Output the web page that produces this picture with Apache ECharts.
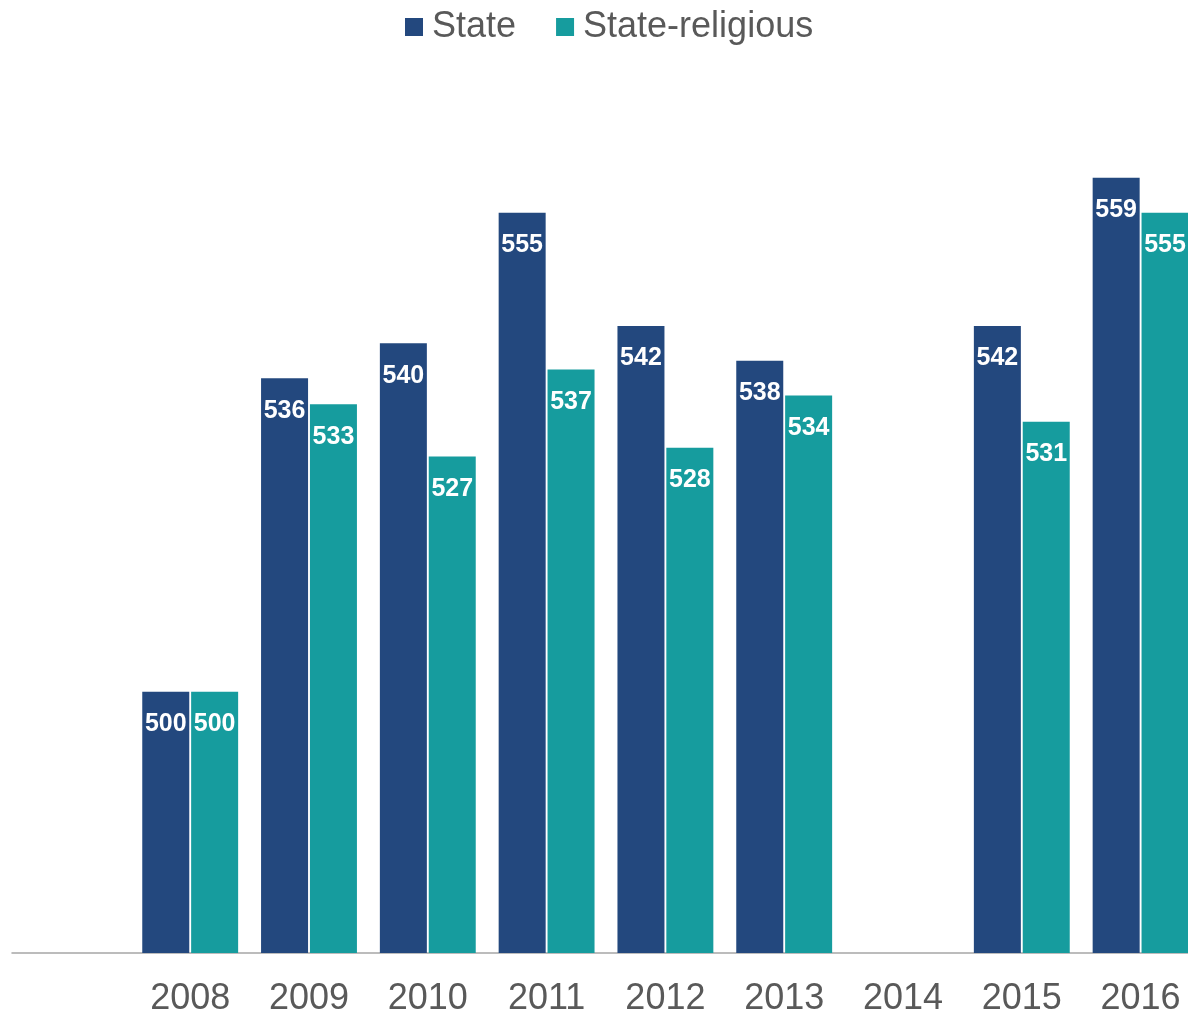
<!DOCTYPE html>
<html>
<head>
<meta charset="utf-8">
<script src="https://cdn.jsdelivr.net/npm/echarts@6/dist/echarts.min.js"></script>
<style>
  html, body { margin: 0; padding: 0; background: #fff; overflow: hidden; }
  #chart { width: 1200px; height: 1017px; }
</style>
</head>
<body>
<div id="chart"></div>
<script>
const years = ['', '2008', '2009', '2010', '2011', '2012', '2013', '2014', '2015', '2016']
const stateValues = [null, 500, 536, 540, 555, 542, 538, null, 542, 559]
const religiousValues = [null, 500, 533, 527, 537, 528, 534, null, 531, 555]

// the plot runs past the right edge in the original, so the canvas is a bit wider than the window
const chart = echarts.init(document.getElementById('chart'))

const label = {
  show: true,
  position: 'insideTop',
  distance: 20,
  color: '#ffffff',
  fontFamily: 'Liberation Sans, Arial, sans-serif',
  fontWeight: 'bold',
  fontSize: 25
}

chart.setOption({
  animation: false,
  legend: {
    top: 4,
    left: 400,
    itemWidth: 18,
    itemHeight: 18,
    itemGap: 40,
    icon: 'rect',
    textStyle: {
      color: '#595959',
      fontFamily: 'Liberation Sans, Arial, sans-serif',
      fontSize: 36,
      padding: [0, 0, 0, 4]
    },
    data: ['State', 'State-religious']
  },
  grid: {
    left: 12,
    right: 0,
    top: 82,
    bottom: 60,
    containLabel: false
  },
  xAxis: {
    type: 'category',
    data: years,
    axisLine: { lineStyle: { color: '#a6a6a6', width: 1.5 } },
    axisTick: { show: false },
    axisLabel: {
      color: '#595959',
      fontFamily: 'Liberation Sans, Arial, sans-serif',
      fontSize: 36,
      margin: 28,
      interval: 0
    }
  },
  yAxis: {
    type: 'value',
    min: 470,
    max: 570,
    show: false,
    splitLine: { show: false }
  },
  series: [
    {
      name: 'State',
      type: 'bar',
      data: stateValues,
      barWidth: 47,
      barGap: '4%',
      itemStyle: { color: '#23487e' },
      label: label
    },
    {
      name: 'State-religious',
      type: 'bar',
      data: religiousValues,
      barWidth: 47,
      itemStyle: { color: '#169c9e' },
      label: label
    }
  ]
})
</script>
</body>
</html>
